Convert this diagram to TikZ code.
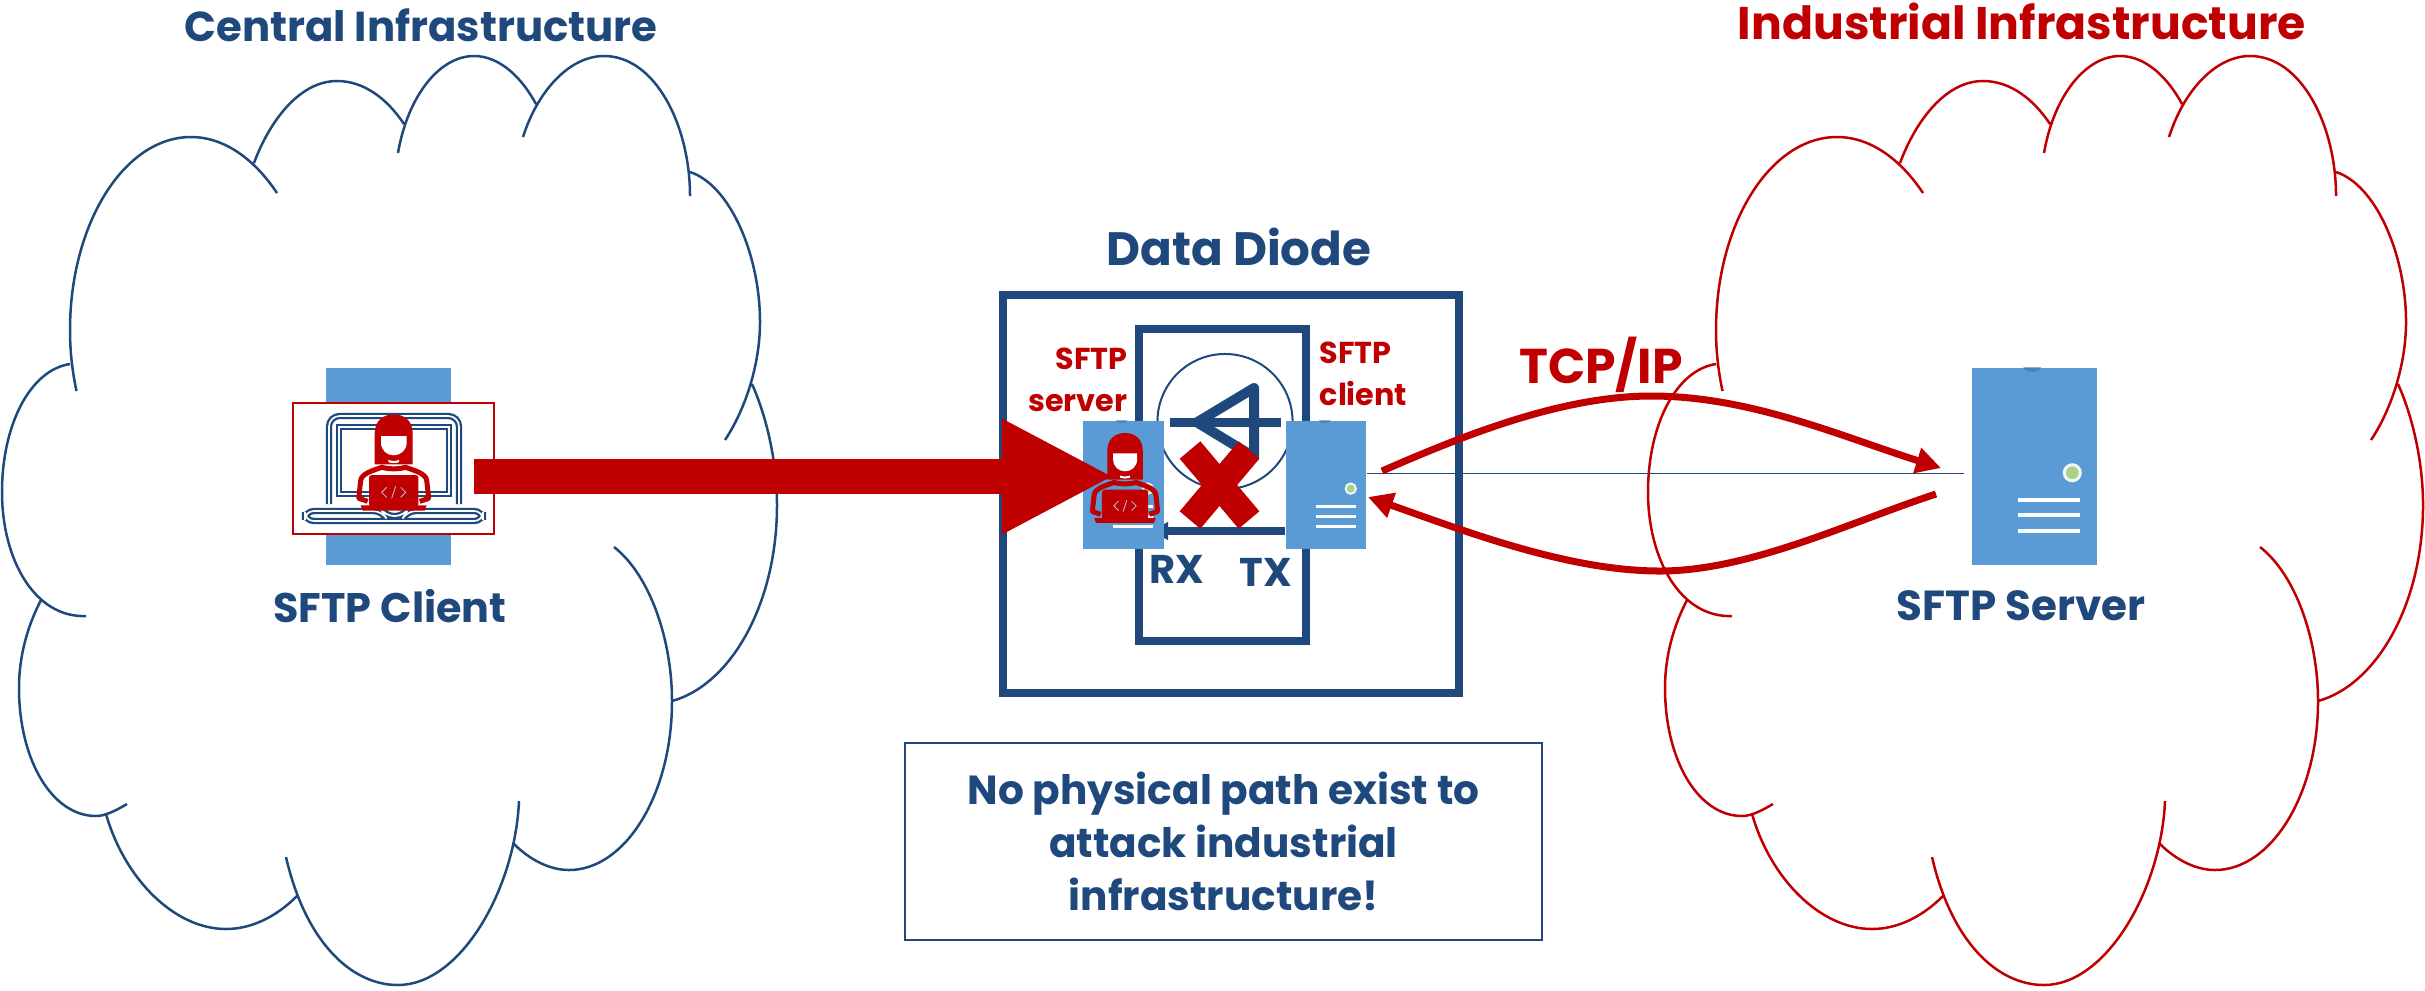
\documentclass[tikz,border=0pt]{standalone}
\usepackage{fontspec}
\usepackage{xcolor}
\setmainfont{Poppins}
\usetikzlibrary{arrows.meta}

\definecolor{navy}{HTML}{1F497D}
\definecolor{darkred}{HTML}{C00000}
\definecolor{serverblue}{HTML}{5B9BD5}
\definecolor{ledgreen}{HTML}{A9D18E}

\newcommand{\cloudlobes}{%
  (76.5,391) .. controls (72,370) and (70,350) .. (70,330) .. controls (70,224) and (124,137) .. (191,137) .. controls (225,137) and (255,160) .. (277,193)
  (254,163) .. controls (270,120) and (300,81) .. (337,81) .. controls (365,81) and (388,100) .. (404,124)
  (398,153) .. controls (408,95) and (440,56) .. (474,56) .. controls (500,56) and (522,78) .. (536,104)
  (523,137) .. controls (538,90) and (570,56) .. (604,56) .. controls (655,56) and (690,125) .. (690,196)
  (690,172) .. controls (730,185) and (760,255) .. (760,322) .. controls (760,365) and (745,410) .. (725,440)
  (752,384) .. controls (768,420) and (777,465) .. (777,505) .. controls (777,605) and (730,685) .. (672,701)
  (614,547) .. controls (650,575) and (672,640) .. (672,701) .. controls (672,795) and (625,870) .. (569,870) .. controls (550,870) and (530,860) .. (514,844)
  (519,801) .. controls (515,890) and (460,985) .. (398,985) .. controls (350,985) and (305,940) .. (286,857)
  (297,896) .. controls (275,918) and (250,929) .. (226,929) .. controls (175,929) and (125,880) .. (106,814)
  (127,804) .. controls (115,811) and (105,816) .. (96,816) .. controls (52,816) and (19,760) .. (19,688) .. controls (19,655) and (28,625) .. (41,600)
  (86,616) .. controls (35,618) and (2,560) .. (2,492) .. controls (2,425) and (30,370) .. (70,364)
}

% lights and slots of a server, #1 = node, #2 = size against the big server
\newcommand{\serverparts}[2]{%
  \begin{scope}[shift={(#1.north west)},scale=#2]
    \fill [navy!30!serverblue] (52,0) .. controls (54,6) and (68,6) .. (70,0) -- cycle;
    \fill [ledgreen,draw=white!85!ledgreen,line width=#2*0.03cm] (101,105.5) circle [radius=8];
    \draw [white,line width=#2*0.042cm] (47,132.6) -- (109,132.6);
    \draw [white,line width=#2*0.042cm] (47,148) -- (109,148);
    \draw [white,line width=#2*0.042cm] (47,163.5) -- (109,163.5);
  \end{scope}
}

\tikzset{
  headline/.style={inner sep=0pt,font=\fontsize{13}{16}\selectfont\bfseries},
  serverbox/.style={fill=serverblue,inner sep=0pt},
  diodebox/.style={draw=navy,line width=0.08cm,inner sep=0pt},
  redlabel/.style={inner sep=0pt,text=darkred,align=left,font=\fontsize{8.6}{11.9}\selectfont\bfseries},
  tcpline/.style={darkred,line width=0.07cm,-{Triangle[length=0.25cm,width=0.25cm]}},
  coder/.pic={
    \fill [darkred] (-19,50) -- (-19,19) .. controls (-19,6) and (-10,0) .. (0,0)
      .. controls (10,0) and (19,6) .. (19,19) -- (19,50) -- cycle;
    \fill [white] (-12.7,21.7) -- (13,21.7) -- (13,28) .. controls (13,36) and (7,41) .. (0,41)
      .. controls (-7,41) and (-12.7,36) .. (-12.7,28) -- cycle;
    \fill [white] (-5.5,45.5) .. controls (-2,47) and (2,47) .. (5.5,45.5) -- (5,48) .. controls (2,49) and (-2,49) .. (-5,48) -- cycle;
    \draw [darkred,line width=0.05cm,line join=round] (-26,87) -- (-35,84) -- (-33,66)
      .. controls (-32,59) and (-20,56) .. (-12,53) .. controls (-4,55) and (4,55) .. (12,53)
      .. controls (20,56) and (32,59) .. (33,66) -- (35,84) -- (26,87);
    \fill [darkred,rounded corners=0.8pt] (-24.7,60.7) rectangle (24.7,93);
    \fill [darkred] (-33,91) -- (33,91) -- (31,96.3) -- (-31,96.3) -- cycle;
    \draw [serverblue!50!white,line width=0.008cm] (-7,73) -- (-12,78) -- (-7,83)
      (7,73) -- (12,78) -- (7,83) (2,72) -- (-2,84);
  }
}

\begin{document}
\begin{tikzpicture}[x=0.01cm,y=-0.01cm]
      \useasboundingbox (0,0) rectangle (2425,990);

      % clouds
      \draw [navy,line width=0.025cm] \cloudlobes;
      \begin{scope}[shift={(1646,0)}]
        \draw [darkred,line width=0.025cm] \cloudlobes;
      \end{scope}
      \node [headline,text=navy,font=\fontsize{11.9}{14}\selectfont\bfseries] (central) at (421,25) {Central Infrastructure};
      \node [headline,text=darkred] (industrial) at (2022,21) {Industrial Infrastructure};

      % sftp client
      \node [serverbox,minimum width=1.25cm,minimum height=1.97cm] (clientserver) at (388.5,466.5) {};
      \node [draw=darkred,fill=white,line width=0.02cm,minimum width=2.01cm,minimum height=1.31cm] (clientbox) at (393.5,468.5) {};
      \draw [navy,line width=0.023cm,double=white,double distance=0.017cm,rounded corners=3pt]
        (329,504) -- (329,416) -- (459,416) -- (459,504);
      \draw [navy,line width=0.023cm,double=white,double distance=0.017cm]
        (339,427) rectangle (449,494);
      \draw [navy,line width=0.023cm,double=white,double distance=0.017cm,rounded corners=2.5pt]
        (305,511) -- (382,511) -- (385,516) -- (404,516) -- (407,511) -- (483,511) -- (483,521) -- (305,521) -- cycle;
      \pic at (393.7,414.3) {coder};
      \node [headline,text=navy,font=\fontsize{11.75}{14}\selectfont\bfseries] (clientlabel) at (390,606) {SFTP Client};

      % data diode
      \node [headline,text=navy,font=\fontsize{13.3}{16}\selectfont\bfseries] (diodelabel) at (1239,247) {Data Diode};
      \node [diodebox,minimum width=4.56cm,minimum height=3.98cm] (outerbox) at (1231,494) {};
      \node [diodebox,minimum width=1.67cm,minimum height=3.12cm] (innerbox) at (1222.5,485) {};
      \node [draw=navy,circle,line width=0.02cm,minimum size=1.35cm,inner sep=0pt] (diodering) at (1225,421.5) {};
      \draw [navy,line width=0.095cm] (1170,422.3) -- (1281,422.3);
      \draw [navy,line width=0.1cm,line join=round] (1197,422.3) -- (1254,388) -- (1254,457) -- cycle;
      \node [serverbox,minimum width=0.80cm,minimum height=1.28cm] (txserver) at (1326,485) {};
      \draw [navy,line width=0.085cm,-{Triangle[length=0.17cm,width=0.17cm]}] (txserver.west |- 0,531) -- (1151,531);
      \node [serverbox,minimum width=0.81cm,minimum height=1.28cm] (rxserver) at (1123.5,485) {};
      \serverparts{rxserver}{0.648}
      \serverparts{txserver}{0.648}
      \draw [darkred,line width=0.27cm] (1190,450) -- (1249,520);
      \draw [darkred,line width=0.27cm] (1190,520) -- (1249,450);
      \node [redlabel,align=right,anchor=north east] (rxname) at (1128,347) {SFTP\\server};
      \node [redlabel,anchor=north west] (txname) at (1319,341) {SFTP\\client};
      \node [inner sep=0pt,text=navy,font=\fontsize{11.4}{14}\selectfont\bfseries] (rxlabel) at (1177,569) {RX};
      \node [inner sep=0pt,text=navy,font=\fontsize{11.4}{14}\selectfont\bfseries] (txlabel) at (1266,572) {TX};

      % sftp server
      \node [serverbox,minimum width=1.25cm,minimum height=1.97cm] (rightserver) at (2034.5,466.5) {};
      \serverparts{rightserver}{1}
      \node [headline,text=navy,font=\fontsize{11.95}{14}\selectfont\bfseries] (serverlabel) at (2021,606) {SFTP Server};

      % connections
      \coordinate (linkend) at (1964,473.5);
      \draw [navy,line width=0.012cm] (txserver.east |- linkend) -- (linkend);
      \coordinate (pushstart) at (474,476.5);
      \coordinate (pushend) at (1114,476.5);
      \draw [darkred,line width=0.35cm,-{Triangle[length=1.12cm,width=1.07cm]}] (pushstart) -- (pushend);
      \pic [scale=0.934] at (1125,433) {coder};
      \coordinate (txout) at (1382,471);
      \coordinate (toptop) at (1651,396);
      \coordinate (rightin) at (1941,468);
      \coordinate (rightout) at (1936,494);
      \coordinate (lowlow) at (1660,571);
      \coordinate (txin) at (1368,497);
      \draw [tcpline] (txout) .. controls (1460,437) and (1560,396) .. (toptop)
        .. controls (1750,396) and (1840,436) .. (rightin);
      \draw [tcpline] (rightout) .. controls (1850,522) and (1750,571) .. (lowlow)
        .. controls (1570,571) and (1470,533) .. (txin);
      \node [inner sep=0pt,text=darkred,font=\fontsize{13.9}{17}\selectfont\bfseries] (tcplabel) at (1601,365) {TCP/IP};

      % note
      \node [draw=navy,line width=0.02cm,minimum width=6.37cm,minimum height=1.97cm,align=center,text=navy,font=\fontsize{11.55}{15}\selectfont\bfseries] (notebox) at (1223.5,841.5) {No physical path exist to\\attack industrial\\infrastructure!};
    \end{tikzpicture}
\end{document}
